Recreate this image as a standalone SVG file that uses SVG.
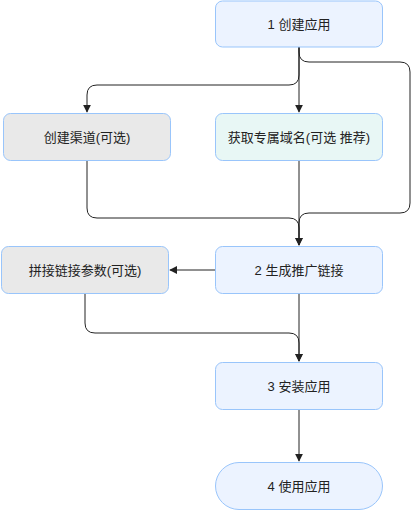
<svg xmlns="http://www.w3.org/2000/svg" width="415" height="511" viewBox="0 0 415 511">
<style>
.n{stroke:#99c5fb;stroke-width:1}
.b{fill:#ecf3ff}
.g{fill:#e9e9e9}
.c{fill:#e8f7f5}
.t{font-family:"Liberation Sans","Noto Sans CJK SC",sans-serif;font-size:13px;fill:#222;text-anchor:middle;dominant-baseline:central}
.e{fill:none;stroke:#222;stroke-width:1}
</style>
<defs>
<marker id="a" viewBox="0 0 10 10" refX="9" refY="5" markerWidth="8" markerHeight="8" markerUnits="userSpaceOnUse" orient="auto">
<path d="M0,0L10,5L0,10z" fill="#222"/>
</marker>
</defs>
<rect width="415" height="511" fill="#fff"/>
<g id="edges">
<path class="e" d="M299,47V112" marker-end="url(#a)"/>
<path class="e" d="M299,47V75Q299,85 289,85H97Q87,85 87,95V112" marker-end="url(#a)"/>
<path class="e" d="M299,47V52Q299,62 309,62H400Q410,62 410,72V203Q410,213 400,213H309Q299,213 299,223V245" marker-end="url(#a)"/>
<path class="e" d="M87,161V208Q87,218 97,218H289Q299,218 299,228V245"/>
<path class="e" d="M299,161V245" marker-end="url(#a)"/>
<path class="e" d="M215,270H170" marker-end="url(#a)"/>
<path class="e" d="M85,293V323Q85,333 95,333H289Q299,333 299,343V361" marker-end="url(#a)"/>
<path class="e" d="M299,293V361" marker-end="url(#a)"/>
<path class="e" d="M299,409V461" marker-end="url(#a)"/>
</g>
<g id="n1"><rect class="n b" x="215.5" y="1" width="167" height="46" rx="7"/><text class="t" x="299" y="24">1 创建应用</text></g>
<g id="n_channel"><rect class="n g" x="3.5" y="113.5" width="167" height="47" rx="7"/><text class="t" x="87" y="137">创建渠道(可选)</text></g>
<g id="n_domain"><rect class="n c" x="215.5" y="113.5" width="167" height="47" rx="7"/><text class="t" x="299" y="137">获取专属域名(可选 推荐)</text></g>
<g id="n2"><rect class="n b" x="215.5" y="246.5" width="167" height="47" rx="7"/><text class="t" x="299" y="270">2 生成推广链接</text></g>
<g id="n_params"><rect class="n g" x="1.5" y="246.5" width="167" height="47" rx="7"/><text class="t" x="85" y="270">拼接链接参数(可选)</text></g>
<g id="n3"><rect class="n b" x="215.5" y="362.5" width="167" height="47" rx="7"/><text class="t" x="299" y="386">3 安装应用</text></g>
<g id="n4"><rect class="n b" x="215.5" y="462.5" width="167" height="47" rx="23.5"/><text class="t" x="299" y="486">4 使用应用</text></g>
</svg>
